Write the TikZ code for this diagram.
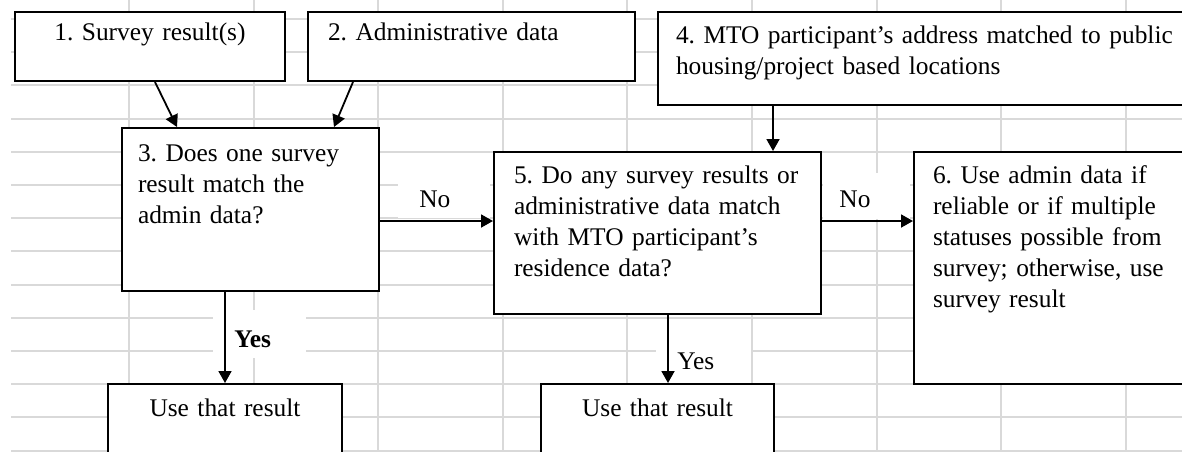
\documentclass[tikz,border=0pt]{standalone}
\usepackage{fontspec}
\setmainfont{Liberation Serif}
\usepackage{tikz}
\usetikzlibrary{positioning}
\usetikzlibrary{arrows.meta}
\definecolor{gridgray}{HTML}{D9D9D9}
\newcommand{\boxfont}{\fontsize{12.7pt}{15.6pt}\selectfont\frenchspacing}
\tikzset{
	box/.style={draw, line width=1pt, fill=white, anchor=north west, inner ysep=0pt, align=left},
	lbl/.style={fill=white, anchor=north west, inner ysep=0pt, align=left},
	flow/.style={-{Triangle[length=6pt,width=6.5pt]}, line width=0.9pt},
	gridline/.style={color=gridgray, line width=1pt}
}

\begin{document}
\begin{tikzpicture}[x=0.5pt, y=-0.5pt, font=\boxfont]
	\useasboundingbox (0,0) rectangle (1182,451);
	\clip (0,0) rectangle (1182,451);
	\foreach \k in {0,...,13}
		\draw[gridline] (11,{19+33.2*\k}) -- (1182,{19+33.2*\k});
	\foreach \j in {1,...,9}
		\draw[gridline] ({4.4+124.6*\j},0) -- ({4.4+124.6*\j},451);

	\node[box, align=center, inner xsep=0pt, text width=135pt, text height=14pt, text depth=20.5pt]
		(survey) at (14,11) {1. Survey result(s)};
	\node[box, inner xsep=10pt, text width=143.5pt, text height=14pt, text depth=20.5pt]
		(admin) at (307,11) {2. Administrative data};
	\node[box, inner xsep=8pt, text width=112.5pt, text height=16.5pt, text depth=65pt]
		(check) at (121,127) {3. Does one survey\\result match the\\admin data?};
	\node[box, inner xsep=9pt, text width=268pt, text height=15.5pt, text depth=31pt]
		(address) at (657,11) {4. MTO participant’s address matched to public\\housing/project based locations};
	\node[box, inner xsep=10pt, text width=143.5pt, text height=15.5pt, text depth=65.5pt]
		(match) at (493,151) {5. Do any survey results or\\administrative data match\\with MTO participant’s\\residence data?};
	\node[box, inner xsep=9.5pt, text width=124.5pt, text height=15.5pt, text depth=100.5pt]
		(fallback) at (913,151) {6. Use admin data if\\reliable or if multiple\\statuses possible from\\survey; otherwise, use\\survey result};
	\node[box, align=center, inner xsep=0pt, text width=117pt, text height=16pt, text depth=27.5pt]
		(useA) at (107,383) {Use that result};
	\node[box, align=center, inner xsep=0pt, text width=116.5pt, text height=16pt, text depth=27.5pt]
		(useB) at (540,383) {Use that result};

	\node[lbl, inner xsep=10.5pt, text width=25pt, text height=18.5pt, text depth=5.5pt]
		(noA) at (398,170) {No};
	\node[lbl, inner xsep=8pt, text width=27.5pt, text height=17pt, text depth=6pt]
		(noB) at (823,173) {No};
	\node[lbl, font={\boxfont\bfseries}, inner xsep=10.5pt, text width=25.5pt, text height=18.5pt, text depth=5.5pt]
		(yesA) at (213,310) {Yes};
	\node[lbl, inner xsep=10.5pt, text width=26.5pt, text height=22pt, text depth=5.5pt]
		(yesB) at (656,325) {Yes};

	\draw[flow] ([xshift=2.5pt]survey.south) -- ([xshift=28pt]check.north west);
	\draw[flow] ([xshift=23pt]admin.south west) -- ([xshift=-23pt]check.north east);
	\coordinate (addrout) at ([xshift=58pt]address.south west);
	\draw[flow] (addrout) -- (addrout |- match.north);
	\coordinate (noline) at ([yshift=-5.75pt]check.east);
	\draw[flow] (noline) -- (noline -| match.west);
	\draw[flow] (noline -| match.east) -- (noline -| fallback.west);
	\draw[flow] (check.south -| useA.north) -- (useA.north);
	\coordinate (yesout) at ([xshift=5.25pt]match.south);
	\draw[flow] (yesout) -- (yesout |- useB.north);
\end{tikzpicture}
\end{document}
